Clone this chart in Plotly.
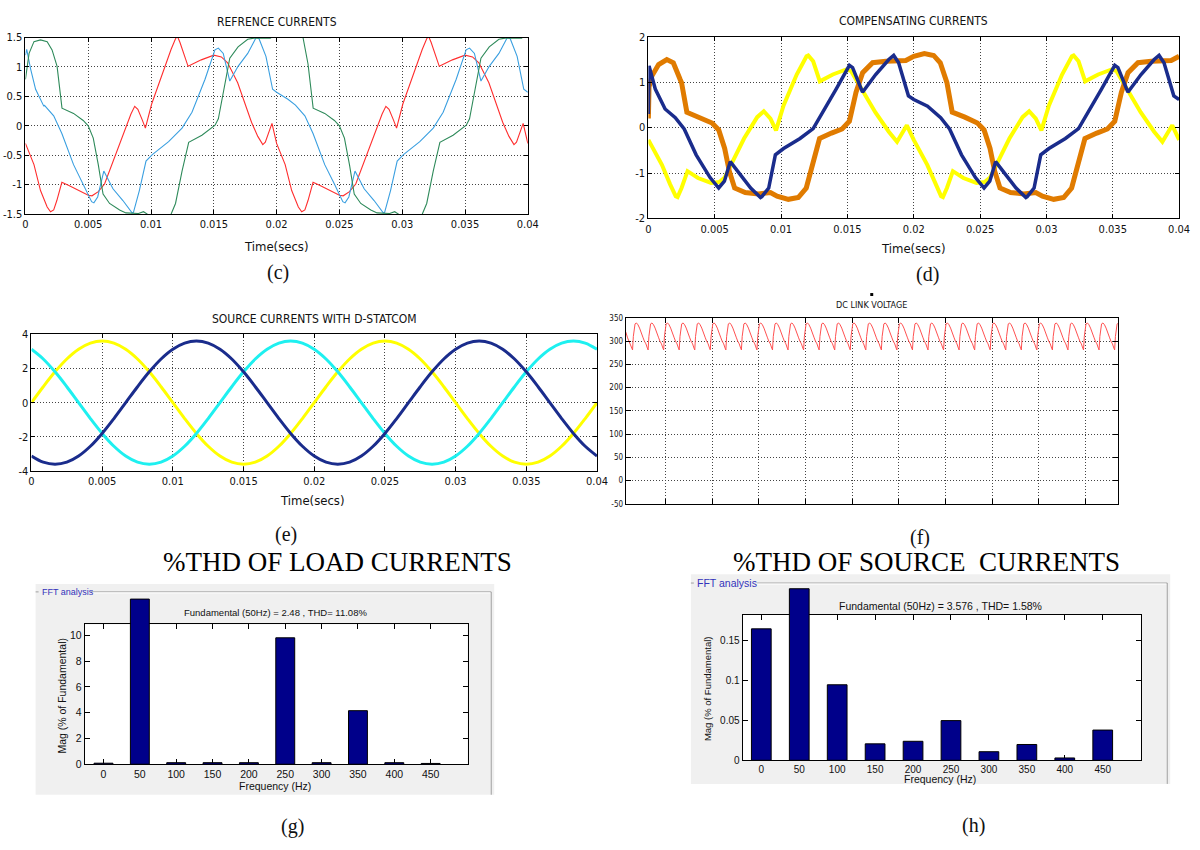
import plotly.graph_objects as go

W, H = 1200, 850
NARROW = "Liberation Sans Narrow, DejaVu Sans Condensed, Arial Narrow, sans-serif"
SANS = "Liberation Sans, Arial, sans-serif"
SERIF = "Liberation Serif, Times New Roman, serif"

# ---------------- (c) REFRENCE CURRENTS : one steady 20 ms period (ms, A) ----------------
ref_red_t = [0, 0.68, 1.2, 1.73, 2.0, 2.25, 2.5, 2.9, 3.5, 4.2, 5.0, 5.3, 5.8, 6.3, 7.0, 7.8, 8.4,
             8.7, 8.95, 9.3, 9.55, 10.05, 11.0, 11.6, 11.95, 12.1, 12.3, 12.95, 14.0, 15.0, 15.6, 16.1,
             16.9, 17.5, 18.0, 18.5, 18.9, 19.1, 19.63]
ref_red_v = [-0.30, -0.66, -1.10, -1.38, -1.46, -1.43, -1.27, -0.96, -1.02, -1.10, -1.18, -1.19, -1.12,
             -0.99, -0.60, -0.15, 0.20, 0.33, 0.28, 0.10, -0.04, 0.37, 0.95, 1.30, 1.48, 1.52, 1.42, 1.01,
             1.12, 1.20, 1.17, 1.07, 0.73, 0.38, 0.06, -0.18, -0.32, -0.28, 0.04]

ref_blue_t = [0, 0.9, 1.5, 2.25, 2.9, 3.83, 4.6, 5.27, 5.45, 5.75, 6.24, 6.97, 7.76, 8.49, 8.6, 9.07,
              9.6, 10.1, 11.4, 12.47, 13.26, 14.3, 15.09, 15.36, 15.75, 16.27, 16.93, 17.7, 18.37, 18.6,
              19.15, 19.68]
ref_blue_v = [0.57, 0.45, 0.35, 0.17, -0.13, -0.66, -0.99, -1.29, -1.31, -1.21, -0.77, -1.07, -1.27,
              -1.48, -1.47, -1.10, -0.60, -0.49, -0.27, -0.04, 0.23, 0.79, 1.29, 1.32, 1.23, 0.76, 1.01,
              1.23, 1.50, 1.48, 1.18, 0.62]
ref_blue_start_t = [0, 0.1, 0.42, 0.81, 1.47]
ref_blue_start_v = [1.20, 1.30, 0.96, 0.62, 0.33]

ref_green_t = [0, 1.5, 2.1, 2.5, 2.91, 3.83, 4.6, 5.0, 5.4, 5.8, 6.18, 6.7, 7.5, 8.0, 9.0, 9.4, 9.7,
               10.0, 11.0, 11.6, 11.95, 12.47, 13.0, 14.05, 15.1, 15.36, 15.75, 16.27, 16.93, 17.7, 18.2,
               19.5, 19.7]
ref_green_v = [1.62, 1.65, 1.50, 1.05, 0.30, 0.21, 0.09, 0.00, -0.21, -0.66, -1.16, -1.32, -1.43, -1.48,
               -1.49, -1.46, -1.50, -1.62, -1.65, -1.50, -1.32, -0.77, -0.28, -0.16, 0.01, 0.12, 0.57,
               1.15, 1.34, 1.47, 1.49, 1.49, 1.52]
ref_green_start_t = [0, 0.29, 0.68, 1.2, 1.73, 2.12, 2.52]
ref_green_start_v = [0.79, 1.23, 1.43, 1.46, 1.43, 1.29, 1.01]

# ---------------- (d) COMPENSATING CURRENTS ----------------
comp_yellow_t = [0, 1.02, 1.64, 2.06, 2.2, 2.5, 2.95, 3.74, 4.73, 5.35, 5.75, 6.22, 7.21, 8.2, 8.7,
                 9.2, 9.62, 10.19, 11.18, 11.92, 12.05, 12.42, 12.92, 13.9, 14.9, 15.27, 15.9, 17.1,
                 18.12, 18.74, 19.48]
comp_yellow_v = [-0.27, -0.82, -1.25, -1.51, -1.53, -1.33, -0.96, -1.11, -1.22, -1.20, -1.10, -0.82,
                 -0.24, 0.23, 0.36, 0.20, -0.06, 0.49, 1.17, 1.57, 1.59, 1.46, 1.02, 1.17, 1.28, 1.25,
                 0.95, 0.34, -0.09, -0.31, 0.05]

comp_orange_t = [0, 0.8, 1.5, 2.0, 2.5, 2.9, 3.85, 4.8, 5.3, 5.75, 6.1, 6.5, 7.3, 8.3, 9.2, 9.7, 10.55,
                 11.3, 11.9, 12.45, 12.9, 13.8, 14.6, 15.15, 15.65, 16.15, 16.9, 17.9, 18.9, 19.4]
comp_orange_v = [1.57, 1.63, 1.59, 1.43, 0.99, 0.34, 0.23, 0.10, -0.05, -0.46, -0.96, -1.33, -1.43,
                 -1.46, -1.43, -1.51, -1.58, -1.54, -1.33, -0.70, -0.24, -0.12, -0.03, 0.14, 0.78, 1.21,
                 1.43, 1.46, 1.46, 1.48]
comp_orange_start_t = [0, 0.05, 0.27, 0.77, 1.39, 1.88, 2.38]
comp_orange_start_v = [0.20, 0.90, 1.14, 1.39, 1.50, 1.43, 1.07]

comp_blue_t = [0, 1.04, 2.03, 2.7, 3.6, 4.65, 5.3, 5.73, 6.17, 6.97, 7.71, 8.45, 8.55, 9.07, 9.57,
               10.19, 11.43, 12.42, 13.16, 14.15, 15.15, 15.39, 16.14, 17.13, 18.12, 18.49, 18.86, 19.6]
comp_blue_v = [0.62, 0.47, 0.22, -0.03, -0.60, -1.10, -1.33, -1.18, -0.75, -1.04, -1.33, -1.54, -1.52,
               -1.33, -0.60, -0.46, -0.24, -0.02, 0.34, 0.85, 1.37, 1.32, 0.78, 1.17, 1.50, 1.59, 1.43,
               0.70]
comp_blue_start_t = [0, 0.05, 0.52, 1.26]
comp_blue_start_v = [0.30, 1.36, 0.85, 0.41]

# ---------------- (e) SOURCE CURRENTS WITH D-STATCOM : samples every 15 deg (0.8333 ms) ----------------
src_step_ms = 20.0 / 24
src_yellow = [0, 0.93, 1.80, 2.55, 3.12, 3.48, 3.60, 3.48, 3.12, 2.55, 1.80, 0.93,
              0, -0.93, -1.80, -2.55, -3.12, -3.48, -3.60, -3.48, -3.12, -2.55, -1.80, -0.93]
src_cyan = [3.12, 2.55, 1.80, 0.93, 0, -0.93, -1.80, -2.55, -3.12, -3.48, -3.60, -3.48,
            -3.12, -2.55, -1.80, -0.93, 0, 0.93, 1.80, 2.55, 3.12, 3.48, 3.60, 3.48]
src_blue = [-3.12, -3.48, -3.60, -3.48, -3.12, -2.55, -1.80, -0.93, 0, 0.93, 1.80, 2.55,
            3.12, 3.48, 3.60, 3.48, 3.12, 2.55, 1.80, 0.93, 0, -0.93, -1.80, -2.55]

# ---------------- (f) DC LINK VOLTAGE : one ripple cycle (fraction of cycle, V) ----------------
dc_phase = [0, 0.05, 0.10, 0.16, 0.25, 0.35, 0.45, 0.57, 0.68, 0.76, 0.86, 0.95]
dc_volt = [281, 310, 330, 337, 339, 335, 328, 319, 307, 300, 294, 285]
dc_cycle_s = 0.01 / 3
dc_first_trough_s = 0.00148

# ---------------- (g), (h) FFT bars ----------------
fft_freq = [0, 50, 100, 150, 200, 250, 300, 350, 400, 450]
load_mag = [0.08, 12.8, 0.12, 0.12, 0.12, 9.8, 0.12, 4.15, 0.12, 0.06]
source_mag = [0.164, 0.214, 0.0942, 0.0205, 0.0237, 0.0495, 0.0107, 0.0197, 0.0029, 0.0377]

time_ticks = [0, 0.005, 0.01, 0.015, 0.02, 0.025, 0.03, 0.035, 0.04]
time_labels = ["0", "0.005", "0.01", "0.015", "0.02", "0.025", "0.03", "0.035", "0.04"]


# ---------------- helpers ----------------
def periodic(t, v, start_t=None, start_v=None, periods=2, T=20.0):
    xs, ys = [], []
    last = -1.0
    if start_t:
        xs += list(start_t)
        ys += list(start_v)
        last = start_t[-1]
    for p in range(periods):
        for ti, vi in zip(t, v):
            tt = ti + p * T
            if tt <= last:
                continue
            xs.append(tt)
            ys.append(vi)
    xs.append(periods * T)
    ys.append(v[0])
    return [x / 1000.0 for x in xs], ys


def sampled(vals, periods=2):
    ys = vals * periods + [vals[0]]
    xs = [i * src_step_ms / 1000.0 for i in range(len(ys))]
    return xs, ys


def pxd_x(a, b):
    return [a / W, b / W]


def pxd_y(top, bottom):
    return [1 - bottom / H, 1 - top / H]


def mat_x(dom, rng, tv, tt, fs=11, labels=True, grid=True, fam=NARROW, ticklen=4):
    return dict(domain=pxd_x(*dom), range=rng, tickvals=tv, ticktext=tt, showline=True,
                linecolor="black", linewidth=1, mirror="ticks", ticks="inside", ticklen=ticklen,
                tickcolor="black", showgrid=grid, gridcolor="#444", griddash="1px,2px", gridwidth=1,
                zeroline=False, showticklabels=labels, tickfont=dict(family=fam, size=fs, color="#111"),
                fixedrange=True)


def hidden(dom_x=None, dom_y=None, rng=None):
    d = dict(range=rng, showline=False, showgrid=False, zeroline=False, showticklabels=False,
             ticks="", fixedrange=True)
    if dom_x:
        d["domain"] = pxd_x(*dom_x)
    if dom_y:
        d["domain"] = pxd_y(*dom_y)
    return d


def ann(x, y, text, size, family=NARROW, color="#111", angle=0, xanchor="center", yanchor="middle"):
    return dict(x=x / W, y=1 - y / H, xref="paper", yref="paper", text=text, showarrow=False,
                font=dict(size=size, family=family, color=color), textangle=angle,
                xanchor=xanchor, yanchor=yanchor)


def rect(x0, y0, x1, y1, fill, layer="below"):
    return dict(type="rect", xref="paper", yref="paper", x0=x0 / W, x1=x1 / W, y0=1 - y1 / H,
                y1=1 - y0 / H, fillcolor=fill, line=dict(width=0), layer=layer)


def seg(x0, y0, x1, y1, color, width=1):
    return dict(type="line", xref="paper", yref="paper", x0=x0 / W, x1=x1 / W, y0=1 - y0 / H,
                y1=1 - y1 / H, line=dict(color=color, width=width), layer="below")


fig = go.Figure()

# (c)
for (t, v, st, sv, col) in [
    (ref_red_t, ref_red_v, None, None, "#FF2E2E"),
    (ref_blue_t, ref_blue_v, ref_blue_start_t, ref_blue_start_v, "#3A9FE0"),
    (ref_green_t, ref_green_v, ref_green_start_t, ref_green_start_v, "#2E8A5A"),
]:
    x, y = periodic(t, v, st, sv)
    fig.add_trace(go.Scatter(x=x, y=y, mode="lines", line=dict(color=col, width=1.1),
                             xaxis="x", yaxis="y", showlegend=False, hoverinfo="skip"))

# (d)
for (t, v, st, sv, col, w) in [
    (comp_yellow_t, comp_yellow_v, None, None, "#FFFF00", 4),
    (comp_orange_t, comp_orange_v, comp_orange_start_t, comp_orange_start_v, "#E07B00", 5),
    (comp_blue_t, comp_blue_v, comp_blue_start_t, comp_blue_start_v, "#1A2C8C", 3.5),
]:
    x, y = periodic(t, v, st, sv)
    fig.add_trace(go.Scatter(x=x, y=y, mode="lines", line=dict(color=col, width=w),
                             xaxis="x2", yaxis="y2", showlegend=False, hoverinfo="skip"))

# (e)
for vals, col in [(src_yellow, "#FFFF00"), (src_cyan, "#1EF0F0"), (src_blue, "#1A2C8C")]:
    x, y = sampled(vals)
    fig.add_trace(go.Scatter(x=x, y=y, mode="lines", line=dict(color=col, width=3, shape="spline"),
                             xaxis="x3", yaxis="y3", showlegend=False, hoverinfo="skip"))

# (f)
dc_x, dc_y = [], []
for k in range(-1, 33):
    for ph, val in zip(dc_phase, dc_volt):
        t = dc_first_trough_s + (k + ph) * dc_cycle_s
        if -0.003 < t < 0.109:
            dc_x.append(t)
            dc_y.append(val)
fig.add_trace(go.Scatter(x=dc_x, y=dc_y, mode="lines", line=dict(color="#FF5050", width=1),
                         xaxis="x4", yaxis="y4", showlegend=False, hoverinfo="skip"))

# (g) frame + bars
fig.add_trace(go.Scatter(x=[None], y=[None], xaxis="x5", yaxis="y5", showlegend=False, hoverinfo="skip"))
fig.add_trace(go.Bar(x=fft_freq, y=load_mag, width=26, marker=dict(color="#00008A", line=dict(color="black", width=1)),
                     xaxis="x6", yaxis="y6", showlegend=False, hoverinfo="skip"))
# (h) frame + bars
fig.add_trace(go.Scatter(x=[None], y=[None], xaxis="x7", yaxis="y7", showlegend=False, hoverinfo="skip"))
fig.add_trace(go.Bar(x=fft_freq, y=source_mag, width=26, marker=dict(color="#00008A", line=dict(color="black", width=1)),
                     xaxis="x8", yaxis="y8", showlegend=False, hoverinfo="skip"))

# ---------------- axes ----------------
c_x = mat_x((22.7, 531), [0, 0.04], time_ticks, time_labels)
c_y = mat_x((0, 1), [-1.5, 1.5], [-1.5, -1, -0.5, 0, 0.5, 1, 1.5],
            ["-1.5", "-1", "-0.5", "0", "0.5", "1", "1.5"])
c_y["domain"] = pxd_y(32, 211.3)
d_x = mat_x((653, 1190), [0, 0.04], time_ticks, time_labels)
d_y = mat_x((0, 1), [-2, 2], [-2, -1, 0, 1, 2], ["-2", "-1", "0", "1", "2"])
d_y["domain"] = pxd_y(31.3, 215.7)
e_x = mat_x((28.8, 601), [0, 0.04], time_ticks, time_labels)
e_y = mat_x((0, 1), [-4, 4], [-4, -2, 0, 2, 4], ["-4", "-2", "0", "2", "4"])
e_y["domain"] = pxd_y(333.3, 472.3)
f_x = mat_x((630, 1128), [0, 0.1055], [0.00854 + 0.01 * i for i in range(10)], [""] * 10,
            labels=False, ticklen=5)
f_y = mat_x((0, 1), [-50, 350], [-50, 0, 50, 100, 150, 200, 250, 300, 350],
            ["-50", "0", "50", "100", "150", "200", "250", "300", "350"], fs=8, ticklen=5)
f_y["domain"] = pxd_y(316.7, 505.5)

g_ppu = 13.1
g_x = mat_x((82.7, 470), [-25.8, 500.7], fft_freq, [str(f) for f in fft_freq], fs=10.5,
            grid=False, fam=SANS, ticklen=5)
g_y = mat_x((0, 1), [0, (770 - 628) / g_ppu], [0, 2, 4, 6, 8, 10], ["0", "2", "4", "6", "8", "10"],
            fs=10.5, grid=False, fam=SANS, ticklen=5)
g_y["domain"] = pxd_y(628, 770)
g_bx = hidden(dom_x=(82.7, 470), rng=[-25.8, 500.7])
g_by = hidden(dom_y=(590, 770), rng=[0, (770 - 590) / g_ppu])

h_ppu = 40.7 / 0.05
h_x = mat_x((748.3, 1151.7), [-24.7, 500.8], fft_freq, [str(f) for f in fft_freq], fs=10,
            grid=False, fam=SANS, ticklen=5)
h_y = mat_x((0, 1), [0, (766 - 618.3) / h_ppu], [0, 0.05, 0.1, 0.15], ["0", "0.05", "0.1", "0.15"],
            fs=10, grid=False, fam=SANS, ticklen=5)
h_y["domain"] = pxd_y(618.3, 766)
h_bx = hidden(dom_x=(748.3, 1151.7), rng=[-24.7, 500.8])
h_by = hidden(dom_y=(580, 766), rng=[0, (766 - 580) / h_ppu])

axes = {}
for i, (xa, ya) in enumerate([(c_x, c_y), (d_x, d_y), (e_x, e_y), (f_x, f_y), (g_x, g_y),
                              (g_bx, g_by), (h_x, h_y), (h_bx, h_by)], start=1):
    sx = "" if i == 1 else str(i)
    xa["anchor"] = "y" + sx
    ya["anchor"] = "x" + sx
    axes["xaxis" + sx] = xa
    axes["yaxis" + sx] = ya

# ---------------- shapes ----------------
shapes = [
    rect(33, 587, 497, 801, "#F0F0F0"),
    seg(33, 595, 36, 595, "#A0A0A0"),
    seg(89, 595, 494, 595, "#A0A0A0"),
    seg(494, 595, 494, 801, "#A0A0A0"),
    seg(89, 596, 493, 596, "#FFFFFF"),
    rect(82.7, 628, 470, 770, "#FFFFFF"),
    rect(696, 577, 1181, 790, "#F0F0F0"),
    seg(696, 586, 699, 586, "#A0A0A0"),
    seg(763, 586, 1178, 586, "#A0A0A0"),
    seg(1178, 586, 1178, 790, "#A0A0A0"),
    seg(763, 587, 1177, 587, "#FFFFFF"),
    rect(748.3, 618.3, 1151.7, 766, "#FFFFFF"),
    rect(877.5, 291.5, 880.5, 294.5, "#000000", layer="above"),
]

# ---------------- annotations ----------------
annotations = [
    ann(277, 16, "REFRENCE CURRENTS", 12),
    ann(277, 244, "Time(secs)", 13),
    ann(921, 15, "COMPENSATING CURRENTS", 12),
    ann(921, 246, "Time(secs)", 13),
    ann(315, 318, "SOURCE CURRENTS WITH D-STATCOM", 12),
    ann(313, 502, "Time(secs)", 13),
    ann(879, 304, "DC LINK VOLTAGE", 9),
    ann(278, 271, "(c)", 20, family=SERIF),
    ann(935, 273, "(d)", 20, family=SERIF),
    ann(286, 537, "(e)", 20, family=SERIF),
    ann(928, 540, "(f)", 20, family=SERIF),
    ann(293, 833, "(g)", 20, family=SERIF),
    ann(982, 832, "(h)", 20, family=SERIF),
    ann(338, 565, "%THD OF LOAD CURRENTS", 27, family=SERIF, color="#000"),
    ann(934, 565, "%THD OF SOURCE  CURRENTS", 27, family=SERIF, color="#000"),
    ann(37, 595, "FFT analysis", 9, family=SANS, color="#3333BB", xanchor="left"),
    ann(276, 616, "Fundamental (50Hz) = 2.48 , THD= 11.08%", 9.5, family=SANS),
    ann(60, 700, "Mag (% of Fundamental)", 10.5, family=SANS, angle=-90),
    ann(275, 792, "Frequency (Hz)", 10.5, family=SANS),
    ann(700, 586, "FFT analysis", 10.5, family=SANS, color="#3333BB", xanchor="left"),
    ann(949, 609, "Fundamental (50Hz) = 3.576 , THD= 1.58%", 10.5, family=SANS),
    ann(713, 693, "Mag (% of Fundamental)", 9.5, family=SANS, angle=-90),
    ann(948, 785, "Frequency (Hz)", 10.5, family=SANS),
]

fig.update_layout(
    width=W, height=H, margin=dict(l=0, r=0, t=0, b=0),
    paper_bgcolor="white", plot_bgcolor="rgba(0,0,0,0)",
    showlegend=False, barmode="overlay",
    shapes=shapes, annotations=annotations, **axes,
)

fig.write_html("out.html")
